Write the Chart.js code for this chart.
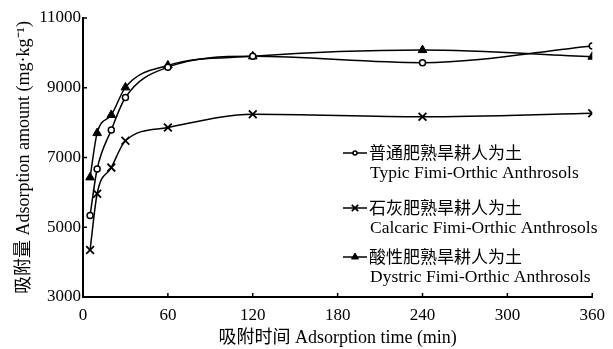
<!DOCTYPE html>
<html>
<head>
<meta charset="utf-8">
<script src="https://cdn.jsdelivr.net/npm/chart.js@4"></script>
<style>
  body { margin: 0; background: #fff; }
  #wrap { width: 613px; height: 349px; }
</style>
</head>
<body>
<div id="wrap"><canvas id="adsorption"></canvas></div>
<script>
// data
const times = [5, 10, 20, 30, 60, 120, 240, 360];
const typic = [5340, 6670, 7790, 8720, 9590, 9900, 9720, 10200];
const calcaric = [4350, 5960, 6710, 7480, 7860, 8240, 8170, 8270];
const dystric = [6430, 7700, 8220, 9010, 9640, 9900, 10080, 9890];
const xTicks = [0, 60, 120, 180, 240, 300, 360];
const yTicks = [3000, 5000, 7000, 9000, 11000];

const namesZh = ["普通肥熟旱耕人为土", "石灰肥熟旱耕人为土", "酸性肥熟旱耕人为土"];
const namesEn = ["Typic Fimi-Orthic Anthrosols", "Calcaric Fimi-Orthic Anthrosols", "Dystric Fimi-Orthic Anthrosols"];

const serif = "'Liberation Serif', 'Times New Roman', serif";
const zh = "'Noto Sans CJK SC', sans-serif";

function pts(ys) {
  return times.map((t, i) => ({ x: t, y: ys[i] }));
}

// inside tick marks + legend drawn on canvas
const extras = {
  id: "extras",
  afterDraw(chart) {
    const ctx = chart.ctx;
    const xs = chart.scales.x, ys = chart.scales.y;
    const area = chart.chartArea;
    ctx.save();
    ctx.strokeStyle = "#000";
    ctx.lineWidth = 1.5;
    ctx.beginPath();
    xTicks.forEach(v => {
      const px = xs.getPixelForValue(v);
      ctx.moveTo(px, area.bottom);
      ctx.lineTo(px, area.bottom - 4);
    });
    yTicks.forEach(v => {
      const py = ys.getPixelForValue(v);
      ctx.moveTo(area.left, py);
      ctx.lineTo(area.left + 4, py);
    });
    ctx.stroke();

    // legend
    const rows = [153, 208, 257];
    chart.data.datasets.forEach((ds, i) => {
      const y = rows[i];
      ctx.strokeStyle = "#000";
      ctx.lineWidth = 1.5;
      ctx.beginPath();
      ctx.moveTo(343, y);
      ctx.lineTo(367, y);
      ctx.stroke();
      ctx.fillStyle = ds.pointBackgroundColor;
      ctx.lineWidth = ds.pointBorderWidth;
      Chart.helpers.drawPoint(ctx, {
        pointStyle: ds.pointStyle,
        radius: ds.pointRadius - 1,
        borderWidth: ds.pointBorderWidth
      }, 355, y);
      ctx.fillStyle = "#000";
      ctx.textBaseline = "middle";
      ctx.textAlign = "left";
      ctx.font = "17px " + zh;
      ctx.fillText(namesZh[i], 369, y);
      ctx.font = "17.5px " + serif;
      ctx.fillText(namesEn[i], 370, y + 20);
    });
    ctx.restore();
  }
};

new Chart(document.getElementById("adsorption").getContext("2d"), {
  type: "line",
  data: {
    datasets: [
      {
        label: namesEn[0],
        data: pts(typic),
        borderColor: "#000",
        borderWidth: 1.5,
        pointStyle: "circle",
        pointRadius: 3,
        pointBorderWidth: 1.5,
        pointBackgroundColor: "#fff",
        pointBorderColor: "#000",
        cubicInterpolationMode: "monotone"
      },
      {
        label: namesEn[1],
        data: pts(calcaric),
        borderColor: "#000",
        borderWidth: 1.5,
        pointStyle: "crossRot",
        pointRadius: 5.5,
        pointBorderWidth: 1.8,
        pointBackgroundColor: "#000",
        pointBorderColor: "#000",
        cubicInterpolationMode: "monotone"
      },
      {
        label: namesEn[2],
        data: pts(dystric),
        borderColor: "#000",
        borderWidth: 1.5,
        pointStyle: "triangle",
        pointRadius: 5,
        pointBorderWidth: 1,
        pointBackgroundColor: "#000",
        pointBorderColor: "#000",
        cubicInterpolationMode: "monotone"
      }
    ]
  },
  options: {
    responsive: true,
    maintainAspectRatio: false,
    animation: false,
    layout: { padding: { top: 18, right: 15, left: 9, bottom: 0 } },
    plugins: {
      legend: { display: false },
      tooltip: { enabled: false }
    },
    scales: {
      x: {
        type: "linear",
        min: 0,
        max: 360,
        afterBuildTicks: s => { s.ticks = xTicks.map(v => ({ value: v })); },
        afterFit: s => { s.height = 52; },
        grid: { display: false, drawTicks: false },
        border: { display: true, color: "#000", width: 2 },
        ticks: { color: "#000", font: { family: serif, size: 17 }, padding: 8, maxRotation: 0,
                 callback: v => String(v) },
        title: {
          display: true,
          text: "吸附时间 Adsorption time (min)",
          color: "#000",
          font: { family: serif + ", " + zh, size: 18 },
          padding: { top: 0, bottom: 0 }
        }
      },
      y: {
        min: 3000,
        max: 11000,
        afterBuildTicks: s => { s.ticks = yTicks.map(v => ({ value: v })); },
        afterFit: s => { s.width = 74; },
        grid: { display: false, drawTicks: false },
        border: { display: true, color: "#000", width: 2 },
        ticks: { color: "#000", font: { family: serif, size: 17 }, padding: 2,
                 callback: v => String(v) },
        title: {
          display: true,
          text: "吸附量 Adsorption amount (mg·kg⁻¹)",
          color: "#000",
          font: { family: serif + ", " + zh, size: 18 },
          padding: { bottom: 0 }
        }
      }
    }
  },
  plugins: [extras]
});
</script>
</body>
</html>
